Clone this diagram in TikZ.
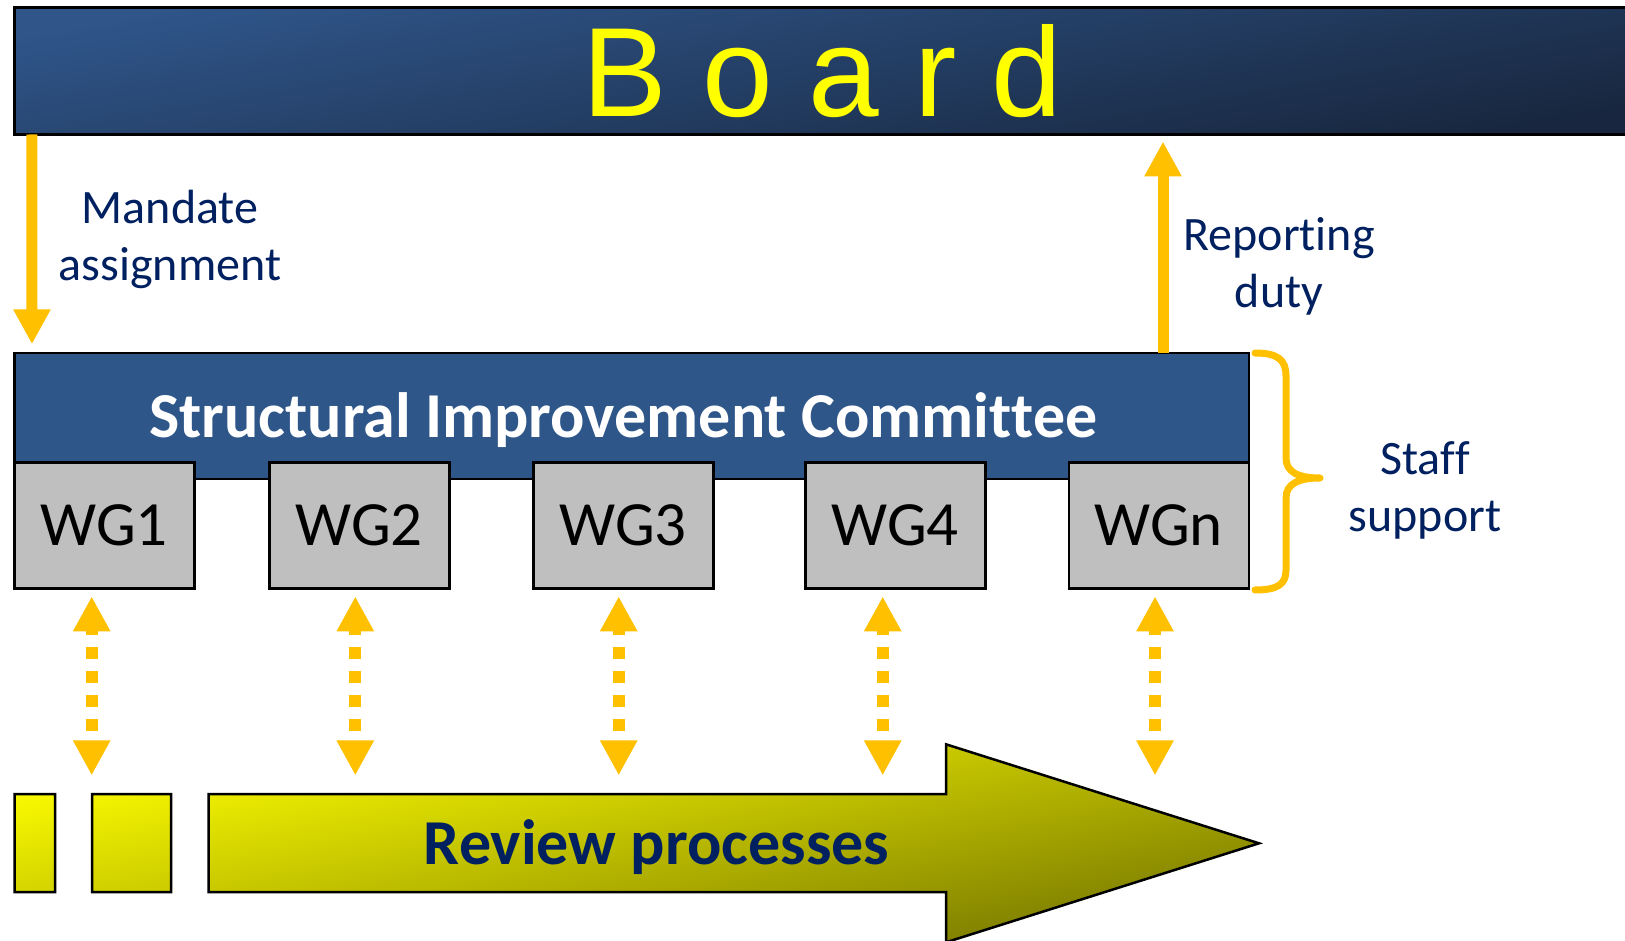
\documentclass[tikz,border=0pt]{standalone}
\usepackage{fontspec}
\setmainfont[Ligatures=NoCommon]{Carlito}
\newfontfamily\boardfont{Liberation Sans}
\usetikzlibrary{positioning,calc,arrows.meta}
\definecolor{boardtop}{HTML}{2F5589}
\definecolor{boardbot}{HTML}{18273F}
\definecolor{sicblue}{HTML}{2E5689}
\definecolor{wggray}{HTML}{BFBFBF}
\definecolor{arrorange}{HTML}{FFC000}
\definecolor{txtnavy}{HTML}{002060}
\definecolor{boardyellow}{HTML}{FFFF00}
\definecolor{revtop}{HTML}{FFFF00}
\definecolor{revbot}{HTML}{787800}
% breaks the t-i, t-t and f-f ligatures of Carlito
\newcommand{\nolig}{\kern0pt}
\tikzset{boardpad/.style={draw=black, line width=3pt, top color=boardtop, bottom color=boardbot, shading angle=10, minimum width=1616pt, minimum height=126.5pt, inner sep=0pt, outer sep=0pt, text=boardyellow, font=\boardfont\fontsize{127}{127}\selectfont}}
\tikzset{sicpad/.style={draw=black, line width=2.5pt, fill=sicblue, minimum width=1234.5pt, minimum height=126pt, inner sep=0pt, outer sep=0pt}}
\tikzset{sictext/.style={anchor=base, inner sep=0pt, text=white, font=\bfseries\fontsize{64}{64}\selectfont}}
\tikzset{wgpad/.style={draw=black, line width=2.5pt, fill=wggray, minimum width=180pt, minimum height=126pt, inner sep=0pt, outer sep=0pt, font=\fontsize{63}{63}\selectfont}}
\tikzset{lbl/.style={align=center, inner sep=0pt, text=txtnavy, font=\fontsize{48}{56.6}\selectfont}}
\tikzset{arrbig/.style={draw=arrorange, line width=11pt, -{Triangle[width=35pt, length=35pt]}}}
\tikzset{arrdot/.style={draw=arrorange, line width=12pt, dash pattern=on 12pt off 12pt, dash phase=6pt, {Triangle[width=35pt, length=35pt]}-{Triangle[width=35pt, length=35pt]}}}
\tikzset{bracepath/.style={draw=arrorange, line width=7pt, line cap=round, line join=round}}
\tikzset{revshade/.style={draw=black, line width=2.5pt, top color=revtop, bottom color=revbot, shading angle=11}}
\tikzset{revtext/.style={anchor=base, inner sep=0pt, text=txtnavy, font=\bfseries\fontsize{64}{64}\selectfont}}

\begin{document}
\begin{tikzpicture}[x=1pt, y=-1pt]
\useasboundingbox (0,0) rectangle (1625,941);
\clip (0,0) rectangle (1625,941);
% board
\node[boardpad] (board) at (822.3,71.25) {B o a r d};
% committee and working groups
\node[sicpad] (sic) at (631.75,416) {};
\node[sictext] (sictitle) at (623.4,437.3) {Structural Improvement Commit\nolig tee};
\node[wgpad] (wg1) at (104.3,525.7) {WG1};
\node[wgpad, right=75pt of wg1] (wg2) {WG2};
\node[wgpad, right=84pt of wg2] (wg3) {WG3};
\node[wgpad, right=92pt of wg3] (wg4) {WG4};
\node[wgpad, right=83.5pt of wg4] (wgn) {WGn};
% mandate and reporting
\draw[arrbig, shorten >=8.7pt] ([xshift=17.5pt]board.south west) -- ([xshift=17.5pt]sic.north west);
\draw[arrbig, shorten >=7pt] ([xshift=-86pt]sic.north east) -- ([xshift=-86pt]sic.north east |- board.south);
\node[lbl] (mandate) at (170,239.3) {Mandate\\assignment};
\node[lbl] (reporting) at (1279,266.5) {Report\nolig ing\\duty};
% staff support
\draw[bracepath] (1255,353) .. controls (1278,353) and (1286,360) .. (1286,376) -- (1286,458)
  .. controls (1286,472) and (1298,478) .. (1320,478)
  .. controls (1298,478) and (1286,484) .. (1286,498) -- (1286,570)
  .. controls (1286,584) and (1278,590) .. (1255,590);
\node[lbl] (staff) at (1425,490.4) {Staf\nolig f\\support};
% review processes
\shadedraw[revshade] (14.5,794) rectangle (55,892) (92,794) rectangle (171,892)
  (208.7,794) -- (946,794) -- (946,744.3) -- (1259,843.3) -- (946,942.3) -- (946,892) -- (208.7,892) -- cycle;
\node[revtext] (review) at (656.7,864) {Review processes};
% links to the review processes
\foreach \wg/\dx in {wg1/-12.6, wg2/-4, wg3/-4.6, wg4/-12.6, wgn/-3.8}
  \draw[arrdot] ([xshift=\dx pt, yshift=-7.7pt]\wg.south) -- ([xshift=\dx pt, yshift=-186.7pt]\wg.south);
\end{tikzpicture}
\end{document}
